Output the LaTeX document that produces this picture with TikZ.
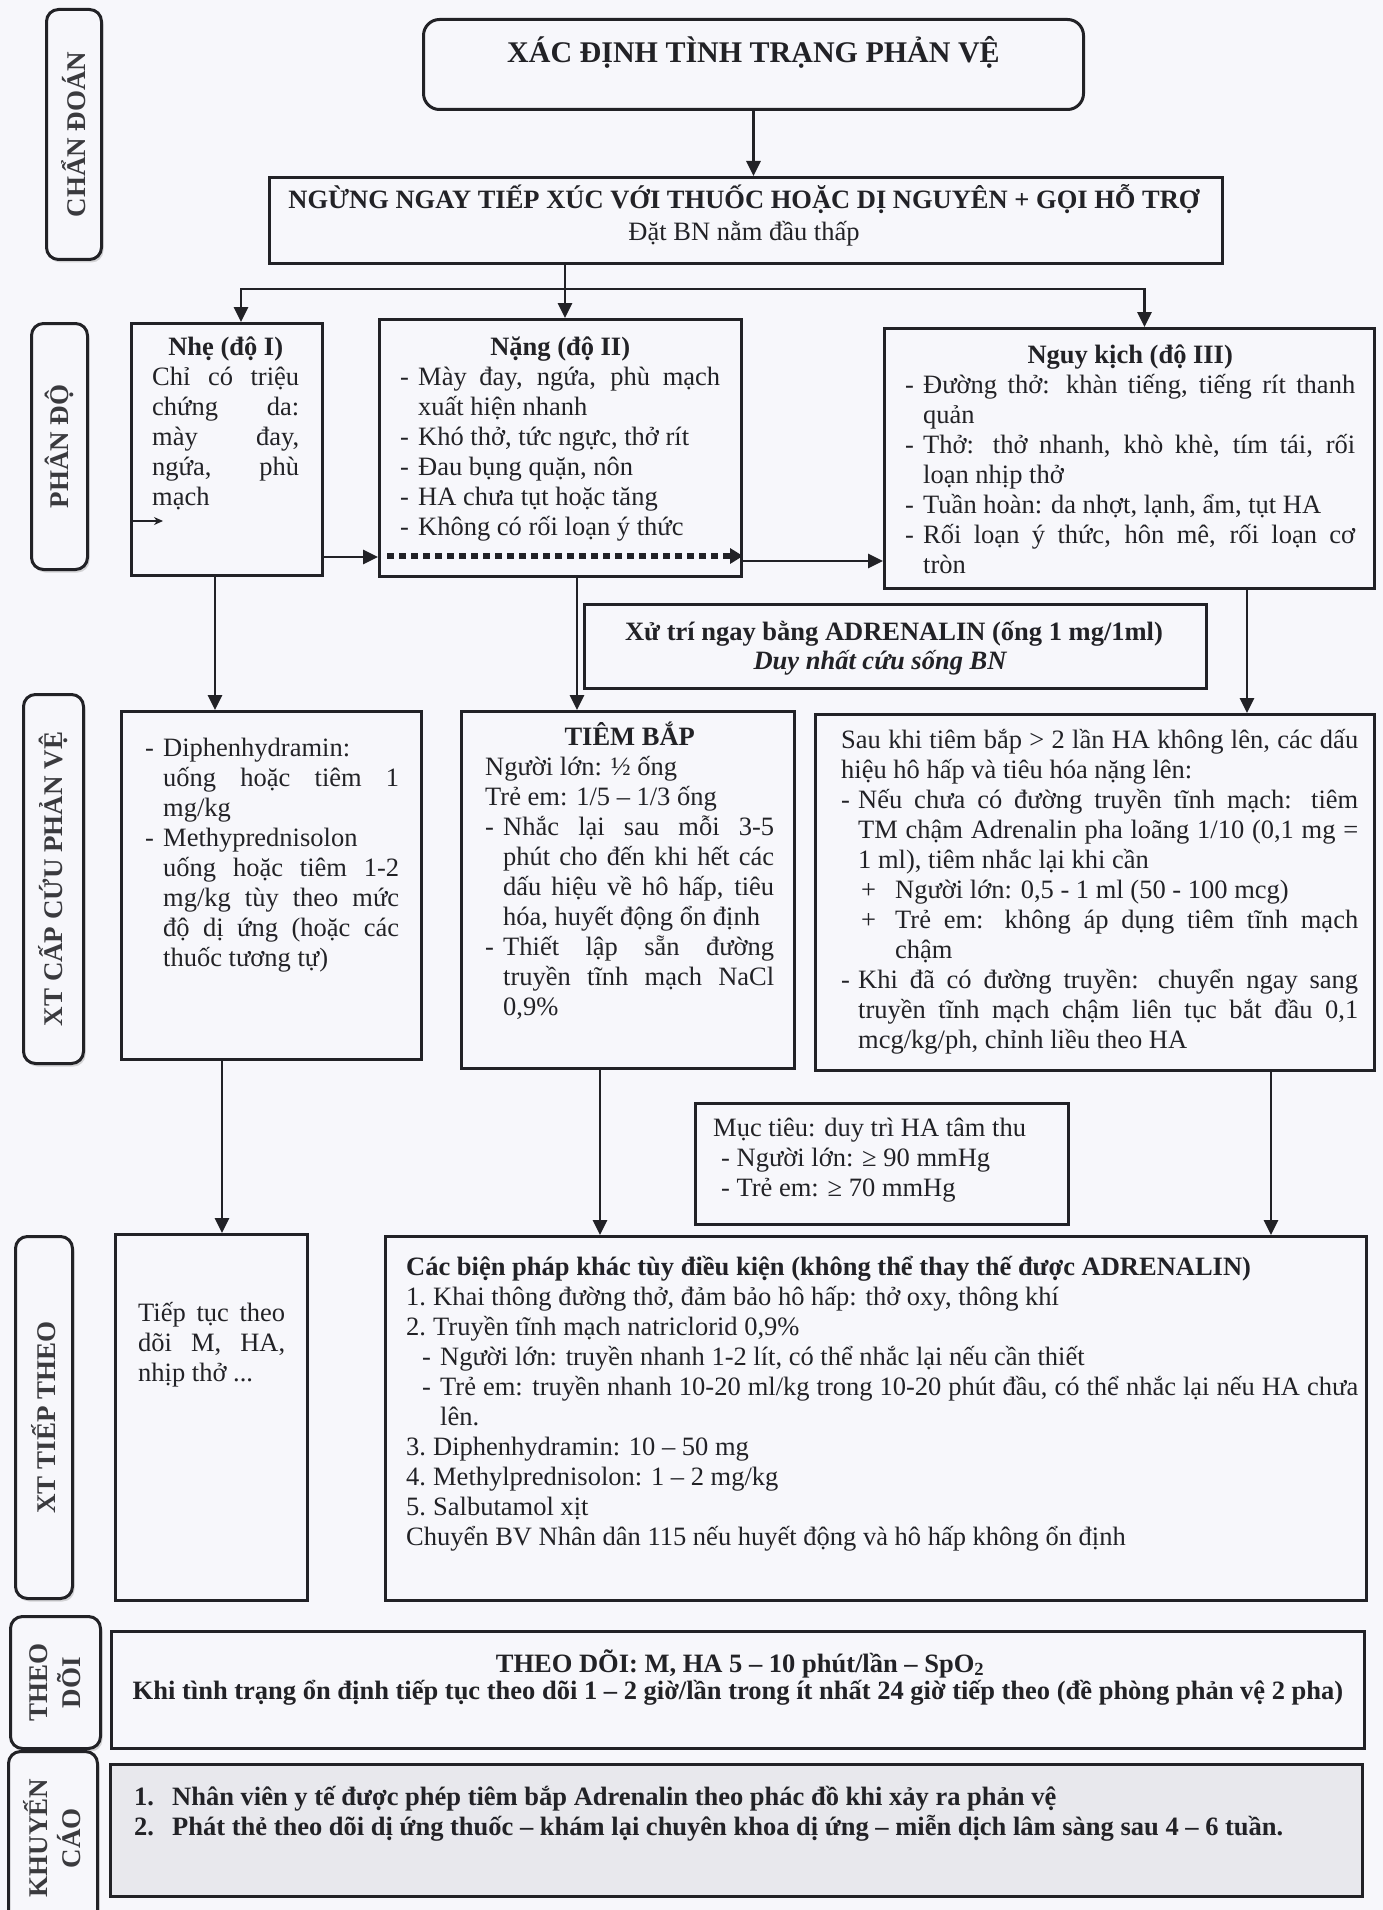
\documentclass[tikz,border=0pt]{standalone}
\usepackage{fontspec}
\setmainfont{Liberation Serif}
\usepackage{xcolor}
\usepackage{tikz}
\usetikzlibrary{arrows.meta, shadows}
\definecolor{ink}{RGB}{34,34,38}
\definecolor{lblgray}{RGB}{58,58,62}
\definecolor{paper}{RGB}{247,247,251}
\definecolor{khfill}{RGB}{232,232,237}

\newcommand{\bodyfont}{\fontsize{26.5pt}{30pt}\selectfont}
\newcommand{\lblfont}{\fontsize{27pt}{33pt}\selectfont\bfseries}
\newcommand{\itm}[1][18pt]{\par\noindent\hangindent=#1\hangafter=1\makebox[#1][l]{-}\ignorespaces}
\newcommand{\plusitm}{\par\noindent\hangindent=54pt\hangafter=1\hspace*{20pt}\makebox[34pt][l]{+}\ignorespaces}
\newcommand{\subitm}{\par\noindent\hangindent=34pt\hangafter=1\hspace*{16pt}\makebox[18pt][l]{-}\ignorespaces}
\newcommand{\numitm}[2][27pt]{\par\noindent\hangindent=#1\hangafter=1\makebox[#1][l]{#2}\ignorespaces}
\newenvironment{boxtext}[1]{\begin{minipage}[t]{#1}\bodyfont\tolerance=10000\hbadness=10000}{\end{minipage}}

\begin{document}
\begin{tikzpicture}[x=1pt, y=-1pt,
  flowbox/.style={draw=ink, line width=3pt, anchor=north west, inner sep=0pt},
  tbox/.style={anchor=base west, inner sep=0pt, text=ink},
  sidebox/.style={draw=ink, line width=3pt, rounded corners=12pt, fill=paper, anchor=north west, inner sep=0pt,
    drop shadow={shadow xshift=2pt, shadow yshift=-3pt, opacity=0.3}},
  sidetxt/.style={rotate=90, font=\lblfont, text=lblgray, align=center, inner sep=0pt},
  arr/.style={draw=ink, line width=2.8pt, -{Triangle[width=14pt,length=15pt]}},
  thinarr/.style={draw=ink, line width=1.4pt, -{Stealth[width=8pt,length=9pt]}},
  dotline/.style={draw=ink, line width=6.5pt, dash pattern=on 7pt off 5pt, -{Triangle[width=15pt,length=13pt]}},
]
\fill[paper] (0,0) rectangle (1383,1910);
\useasboundingbox (0,0) rectangle (1383,1910);

% stage labels
\node[sidebox, minimum width=55pt, minimum height=250pt] (chandoan) at (45,8) {};
\node[sidetxt] (chandoantxt) at (chandoan.center) {CHẨN ĐOÁN};
\node[sidebox, minimum width=56pt, minimum height=246pt] (phando) at (30,322) {};
\node[sidetxt] (phandotxt) at (phando.center) {PHÂN ĐỘ};
\node[sidebox, minimum width=60pt, minimum height=369pt] (xtcc) at (22,693) {};
\node[sidetxt] (xtcctxt) at (xtcc.center) {XT CẤP CỨU PHẢN VỆ};
\node[sidebox, minimum width=57pt, minimum height=362pt] (xttt) at (14,1235) {};
\node[sidetxt] (xttttxt) at (xttt.center) {XT TIẾP THEO};
\node[sidebox, minimum width=90pt, minimum height=132pt] (theodoi) at (9,1615) {};
\node[sidetxt] (theodoitxt) at (theodoi.center) {THEO\\DÕI};
\node[sidebox, minimum width=89pt, minimum height=180pt] (khuyencao) at (7,1750) {};
\node[sidetxt] (khuyencaotxt) at (52,1838) {KHUYẾN\\CÁO};

% diagnosis
\node[flowbox, rounded corners=16pt, minimum width=660pt, minimum height=90pt] (title) at (422,18) {};
\node[inner sep=0pt, font=\fontsize{30pt}{34pt}\selectfont\bfseries, text=ink] (titletxt) at ([yshift=12pt]title.center) {XÁC ĐỊNH TÌNH TRẠNG PHẢN VỆ};
\node[flowbox, minimum width=953pt, minimum height=86pt] (stop) at (268,176) {};
\node[tbox, anchor=base] (stoptxt1) at (744,209) {\bodyfont\bfseries NGỪNG NGAY TIẾP XÚC VỚI THUỐC HOẶC DỊ NGUYÊN + GỌI HỖ TRỢ};
\node[tbox, anchor=base] (stoptxt2) at (744,241) {\bodyfont Đặt BN nằm đầu thấp};

% grading
\node[flowbox, minimum width=191pt, minimum height=252pt] (nhe) at (130,322) {};
\node[tbox] (nhetxt) at (152,355) {\begin{boxtext}{147pt}{\centering\bfseries Nhẹ (độ I)\par}Chỉ có triệu\linebreak chứng da:\linebreak mày đay,\linebreak ngứa, phù\linebreak mạch\end{boxtext}};
\node[flowbox, minimum width=362pt, minimum height=257pt] (nang) at (378,318) {};
\node[tbox] (nangtxt) at (400,355) {\begin{boxtext}{320pt}{\centering\bfseries Nặng (độ II)\par}\itm Mày đay, ngứa, phù mạch\linebreak xuất hiện nhanh\itm Khó thở, tức ngực, thở rít\itm Đau bụng quặn, nôn\itm HA chưa tụt hoặc tăng\itm Không có rối loạn ý thức\end{boxtext}};
\node[flowbox, minimum width=490pt, minimum height=260pt] (nguy) at (883,327) {};
\node[tbox] (nguytxt) at (905,363) {\begin{boxtext}{450pt}{\centering\bfseries Nguy kịch (độ III)\par}\itm Đường thở: khàn tiếng, tiếng rít thanh\linebreak quản\itm Thở: thở nhanh, khò khè, tím tái, rối\linebreak loạn nhịp thở\itm Tuần hoàn: da nhợt, lạnh, ẩm, tụt HA\itm Rối loạn ý thức, hôn mê, rối loạn cơ\linebreak tròn\end{boxtext}};
\node[flowbox, minimum width=622pt, minimum height=84pt] (adr) at (583,603) {};
\node[tbox, anchor=base] (adrtxt1) at (894,640) {\bodyfont\bfseries Xử trí ngay bằng ADRENALIN (ống 1 mg/1ml)};
\node[tbox, anchor=base] (adrtxt2) at (880,669) {\bodyfont\bfseries\itshape Duy nhất cứu sống BN};

% emergency treatment
\node[flowbox, minimum width=300pt, minimum height=348pt] (khang) at (120,710) {};
\node[tbox] (khangtxt) at (145,756) {\begin{boxtext}{254pt}\itm Diphenhydramin:\newline uống hoặc tiêm 1\linebreak mg/kg\itm Methyprednisolon\newline uống hoặc tiêm 1-2\linebreak mg/kg tùy theo mức\linebreak độ dị ứng (hoặc các\linebreak thuốc tương tự)\end{boxtext}};
\node[flowbox, minimum width=333pt, minimum height=357pt] (tiem) at (460,710) {};
\node[tbox] (tiemtxt) at (485,745) {\begin{boxtext}{289pt}{\centering\bfseries TIÊM BẮP\par}Người lớn: ½ ống\par Trẻ em: 1/5 – 1/3 ống\itm Nhắc lại sau mỗi 3-5\linebreak phút cho đến khi hết các\linebreak dấu hiệu về hô hấp, tiêu\linebreak hóa, huyết động ổn định\itm Thiết lập sẵn đường\linebreak truyền tĩnh mạch NaCl\linebreak 0,9\%\end{boxtext}};
\node[flowbox, minimum width=559pt, minimum height=356pt] (tm) at (814,713) {};
\node[tbox] (tmtxt) at (841,748) {\begin{boxtext}{517pt}Sau khi tiêm bắp > 2 lần HA không lên, các dấu\linebreak hiệu hô hấp và tiêu hóa nặng lên:\itm[17pt]Nếu chưa có đường truyền tĩnh mạch: tiêm\linebreak TM chậm Adrenalin pha loãng 1/10 (0,1 mg =\linebreak 1 ml), tiêm nhắc lại khi cần\plusitm Người lớn: 0,5 - 1 ml (50 - 100 mcg)\plusitm Trẻ em: không áp dụng tiêm tĩnh mạch\linebreak chậm\itm[17pt]Khi đã có đường truyền: chuyển ngay sang\linebreak truyền tĩnh mạch chậm liên tục bắt đầu 0,1\linebreak mcg/kg/ph, chỉnh liều theo HA\end{boxtext}};
\node[flowbox, minimum width=373pt, minimum height=121pt] (muctieu) at (694,1102) {};
\node[tbox] (muctieutxt) at (713,1136) {\begin{boxtext}{340pt}Mục tiêu: duy trì HA tâm thu\par\hspace*{8pt}- Người lớn: ≥ 90 mmHg\par\hspace*{8pt}- Trẻ em: ≥ 70 mmHg\end{boxtext}};

% follow-up treatment
\node[flowbox, minimum width=192pt, minimum height=366pt] (tieptuc) at (114,1233) {};
\node[tbox] (tieptuctxt) at (138,1321) {\begin{boxtext}{147pt}Tiếp tục theo\linebreak dõi M, HA,\linebreak nhịp thở ...\end{boxtext}};
\node[flowbox, minimum width=981pt, minimum height=364pt] (bienphap) at (384,1235) {};
\node[tbox] (bienphaptxt) at (406,1275) {\begin{boxtext}{952pt}\textbf{Các biện pháp khác tùy điều kiện (không thể thay thế được ADRENALIN)}\numitm{1.}Khai thông đường thở, đảm bảo hô hấp: thở oxy, thông khí\numitm{2.}Truyền tĩnh mạch natriclorid 0,9\%\subitm Người lớn: truyền nhanh 1-2 lít, có thể nhắc lại nếu cần thiết\subitm Trẻ em: truyền nhanh 10-20 ml/kg trong 10-20 phút đầu, có thể nhắc lại nếu HA chưa\linebreak lên.\numitm{3.}Diphenhydramin: 10 – 50 mg\numitm{4.}Methylprednisolon: 1 – 2 mg/kg\numitm{5.}Salbutamol xịt\par Chuyển BV Nhân dân 115 nếu huyết động và hô hấp không ổn định\end{boxtext}};

% monitoring and advice
\node[flowbox, minimum width=1253pt, minimum height=117pt] (theodoibox) at (110,1630) {};
\node[tbox, anchor=base] (theodoitxt1) at (740,1672) {\bodyfont\bfseries THEO DÕI: M, HA 5 – 10 phút/lần – SpO\textsubscript{2}};
\node[tbox, anchor=base] (theodoitxt2) at (738,1699) {\bodyfont\bfseries Khi tình trạng ổn định tiếp tục theo dõi 1 – 2 giờ/lần trong ít nhất 24 giờ tiếp theo (đề phòng phản vệ 2 pha)};
\node[flowbox, fill=khfill, minimum width=1252pt, minimum height=132pt] (kcbox) at (109,1763) {};
\node[tbox] (kctxt) at (134,1805) {\begin{boxtext}{1220pt}\bfseries\numitm[38pt]{1.}Nhân viên y tế được phép tiêm bắp Adrenalin theo phác đồ khi xảy ra phản vệ\numitm[38pt]{2.}Phát thẻ theo dõi dị ứng thuốc – khám lại chuyên khoa dị ứng – miễn dịch lâm sàng sau 4 – 6 tuần.\end{boxtext}};

% connectors
\coordinate (split) at (565,289);
\draw[arr] (title.south) -- (title.south |- stop.north);
\draw[arr] (stop.south -| split) -- (nang.north -| split);
\draw[arr] (split) -| ([xshift=14pt]nhe.north);
\draw[arr] (split) -| ([xshift=15pt]nguy.north);
\draw[thinarr] (nhe.west |- 0,521) -- ++(33,0);
\draw[arr] (nhe.east |- 0,557) -- (nang.west |- 0,557);
\draw[dotline] (nang.west |- 0,556) ++(9,0) -- (nang.east |- 0,556);
\draw[arr] (nang.east |- 0,561) -- (nguy.west |- 0,561);
\draw[arr] (nhe.south -| 215,0) -- (khang.north -| 215,0);
\draw[arr] (nang.south -| 577,0) -- (tiem.north -| 577,0);
\draw[arr] (nguy.south -| 1247,0) -- (tm.north -| 1247,0);
\draw[arr] (khang.south -| 222,0) -- (tieptuc.north -| 222,0);
\draw[arr] (tiem.south -| 600,0) -- (bienphap.north -| 600,0);
\draw[arr] (tm.south -| 1271,0) -- (bienphap.north -| 1271,0);
\end{tikzpicture}
\end{document}
